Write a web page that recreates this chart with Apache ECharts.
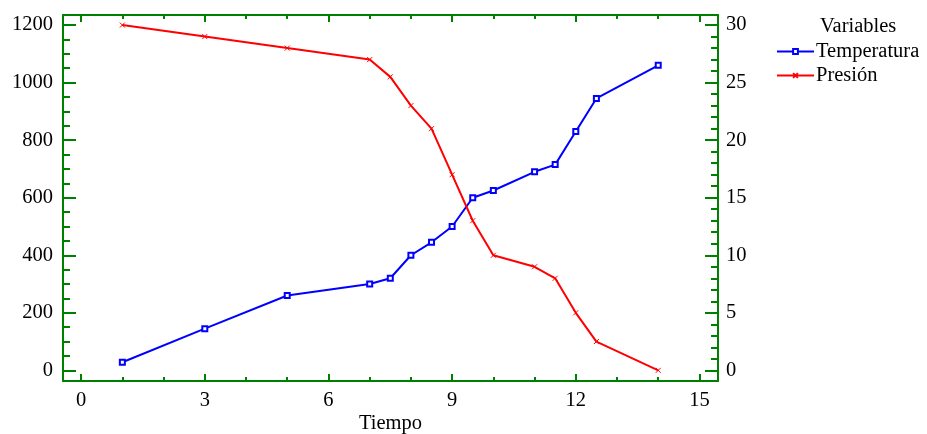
<!DOCTYPE html>
<html>
<head>
<meta charset="utf-8">
<script src="https://cdn.jsdelivr.net/npm/echarts@6/dist/echarts.min.js"></script>
<style>html,body{margin:0;padding:0;background:#fff}#c{width:927px;height:434px}</style>
</head>
<body>
<div id="c"></div>
<script>
const tiempo = [1, 3, 5, 7, 7.5, 8, 8.5, 9, 9.5, 10, 11, 11.5, 12, 12.5, 14];
const temperatura = [28, 145, 260, 300, 320, 400, 445, 500, 600, 625, 690, 715, 830, 945, 1060];
const presion = [30, 29, 28, 27, 25.5, 23, 21, 17, 13, 10, 9, 8, 5, 2.5, 0];
const xTicks = [0, 3, 6, 9, 12, 15];
const xMinorTicks = [0, 1, 2, 3, 4, 5, 6, 7, 8, 9, 10, 11, 12, 13, 14, 15];
const leftTicks = [0, 200, 400, 600, 800, 1000, 1200];
const leftMinorTicks = [0, 50, 100, 150, 200, 250, 300, 350, 400, 450, 500, 550, 600, 650, 700, 750, 800, 850, 900, 950, 1000, 1050, 1100, 1150, 1200];
const rightTicks = [0, 5, 10, 15, 20, 25, 30];
const rightMinorTicks = [0,1,2,3,4,5,6,7,8,9,10,11,12,13,14,15,16,17,18,19,20,21,22,23,24,25,26,27,28,29,30];

const GREEN = '#008000';
const FONT = 'Liberation Serif';
const FS = 20.5;
const X_MIN = -0.44, X_MAX = 15.45;
const L_MIN = -37, L_MAX = 1235;
const R_MIN = L_MIN / 40, R_MAX = L_MAX / 40;

function axis(o) {
  return Object.assign({
    type: 'value',
    splitLine: { show: false },
    axisLine: { show: false, onZero: false },
    axisLabel: { show: false },
    axisTick: { show: false }
  }, o);
}

const xAxis = [
  axis({ position: 'bottom', min: X_MIN, max: X_MAX,
    name: 'Tiempo', nameLocation: 'middle', nameGap: 32, nameMoveOverlap: false,
    nameTextStyle: { fontFamily: FONT, fontSize: FS, color: '#000', verticalAlign: 'top' },
    axisLine: { show: true, onZero: false, lineStyle: { color: GREEN, width: 2 } },
    axisTick: { show: true, inside: true, length: 7, customValues: xTicks, lineStyle: { color: GREEN, width: 2 } },
    axisLabel: { show: true, margin: 9, customValues: xTicks, formatter: v => String(v), fontFamily: FONT, fontSize: FS, color: '#000' } }),
  axis({ position: 'bottom', min: X_MIN, max: X_MAX,
    axisTick: { show: true, inside: true, length: 4, customValues: xMinorTicks, lineStyle: { color: GREEN, width: 2 } } }),
  axis({ position: 'top', min: X_MIN, max: X_MAX,
    axisLine: { show: true, onZero: false, lineStyle: { color: GREEN, width: 2 } },
    axisTick: { show: true, inside: true, length: 7, customValues: xTicks, lineStyle: { color: GREEN, width: 2 } } }),
  axis({ position: 'top', min: X_MIN, max: X_MAX,
    axisTick: { show: true, inside: true, length: 4, customValues: xMinorTicks, lineStyle: { color: GREEN, width: 2 } } })
];

const yAxis = [
  axis({ position: 'left', min: L_MIN, max: L_MAX,
    axisLine: { show: true, onZero: false, lineStyle: { color: GREEN, width: 2 } },
    axisTick: { show: true, inside: true, length: 13, customValues: leftTicks, lineStyle: { color: GREEN, width: 2 } },
    axisLabel: { show: true, margin: 10, customValues: leftTicks, formatter: v => String(v), fontFamily: FONT, fontSize: FS, color: '#000' } }),
  axis({ position: 'left', min: L_MIN, max: L_MAX,
    axisTick: { show: true, inside: true, length: 7, customValues: leftMinorTicks, lineStyle: { color: GREEN, width: 2 } } }),
  axis({ position: 'right', min: R_MIN, max: R_MAX,
    axisLine: { show: true, onZero: false, lineStyle: { color: GREEN, width: 2 } },
    axisTick: { show: true, inside: true, length: 13, customValues: rightTicks, lineStyle: { color: GREEN, width: 2 } },
    axisLabel: { show: true, margin: 8, customValues: rightTicks, formatter: v => String(v), fontFamily: FONT, fontSize: FS, color: '#000' } }),
  axis({ position: 'right', min: R_MIN, max: R_MAX,
    axisTick: { show: true, inside: true, length: 7, customValues: rightMinorTicks, lineStyle: { color: GREEN, width: 2 } } })
];

const chart = echarts.init(document.getElementById('c'), null, { renderer: 'canvas' });
chart.setOption({
  animation: false,
  backgroundColor: '#fff',
  title: {
    text: 'Variables', left: 820, top: 16, padding: 0,
    textStyle: { fontFamily: FONT, fontSize: FS, fontWeight: 'normal', color: '#000' }
  },
  legend: {
    orient: 'vertical', left: 776, top: 41, padding: 0, itemGap: 3,
    itemWidth: 37, itemHeight: 6,
    textStyle: { fontFamily: FONT, fontSize: FS, color: '#000', padding: [0, 0, 0, -3] },
    data: ['Temperatura', 'Presión']
  },
  grid: { left: 63, top: 15, right: 209, bottom: 53, containLabel: false, outerBoundsMode: 'none' },
  xAxis: xAxis,
  yAxis: yAxis,
  series: [
    {
      name: 'Temperatura', type: 'line', xAxisIndex: 0, yAxisIndex: 0,
      data: tiempo.map((t, i) => [t, temperatura[i]]),
      symbol: 'emptyRect', symbolSize: 5,
      lineStyle: { color: '#0000FF', width: 2 },
      itemStyle: { color: '#0000FF', borderColor: '#0000FF', borderWidth: 1 }
    },
    {
      name: 'Presión', type: 'line', xAxisIndex: 0, yAxisIndex: 2,
      data: tiempo.map((t, i) => [t, presion[i]]),
      symbol: 'path://M0,0L10,10M10,0L0,10', symbolSize: 5,
      lineStyle: { color: '#FF0000', width: 2 },
      itemStyle: { color: '#FF0000', borderColor: '#FF0000', borderWidth: 1 }
    }
  ]
});
</script>
</body>
</html>
